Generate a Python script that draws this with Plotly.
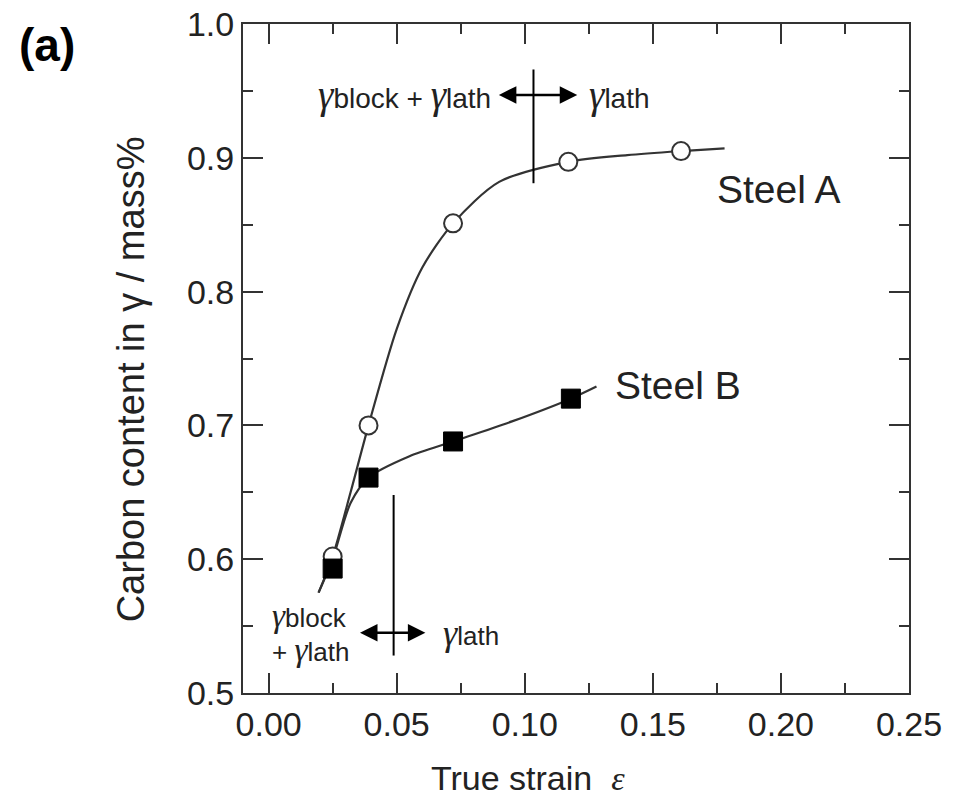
import plotly.graph_objects as go

# measured points
strain_A = [0.025, 0.039, 0.072, 0.117, 0.161]
carbon_A = [0.602, 0.700, 0.851, 0.897, 0.905]
strain_B = [0.025, 0.039, 0.072, 0.118]
carbon_B = [0.593, 0.661, 0.688, 0.720]

# guide curves
fit_strain_A = [0.0195, 0.025, 0.032, 0.039, 0.05, 0.06, 0.072, 0.09, 0.117, 0.14, 0.161, 0.178]
fit_carbon_A = [0.575, 0.602, 0.650, 0.700, 0.772, 0.818, 0.851, 0.882, 0.897, 0.902, 0.905, 0.907]
fit_strain_B = [0.0195, 0.025, 0.032, 0.039, 0.055, 0.072, 0.095, 0.118, 0.128]
fit_carbon_B = [0.575, 0.600, 0.642, 0.661, 0.677, 0.688, 0.703, 0.720, 0.729]

# boundaries between regimes (strain, y-bottom, y-top)
bound_top = [0.1034, 0.881, 0.966]
bound_bot = [0.0488, 0.528, 0.648]
arrow_top = [0.0893, 0.1205, 0.947]
arrow_bot = [0.0351, 0.0612, 0.545]

x_ticks = [0.00, 0.05, 0.10, 0.15, 0.20, 0.25]
x_ticktext = ["0.00", "0.05", "0.10", "0.15", "0.20", "0.25"]
y_ticks = [0.5, 0.6, 0.7, 0.8, 0.9, 1.0]
y_ticktext = ["0.5", "0.6", "0.7", "0.8", "0.9", "1.0"]

SANS = "Arial, Liberation Sans, sans-serif"
SERIF = "Liberation Serif, Times New Roman, serif"
INK = "#222"
LINE = "#333"

fig = go.Figure()
fig.add_trace(go.Scatter(x=fit_strain_A, y=fit_carbon_A, mode="lines",
                         line=dict(color=LINE, width=2.2, shape="spline", smoothing=0.8),
                         showlegend=False, hoverinfo="skip"))
fig.add_trace(go.Scatter(x=fit_strain_B, y=fit_carbon_B, mode="lines",
                         line=dict(color=LINE, width=2.2, shape="spline", smoothing=0.8),
                         showlegend=False, hoverinfo="skip"))
fig.add_trace(go.Scatter(x=strain_A, y=carbon_A, mode="markers", name="Steel A",
                         marker=dict(symbol="circle", size=18, color="white",
                                     line=dict(color=LINE, width=2)),
                         showlegend=False))
fig.add_trace(go.Scatter(x=strain_B, y=carbon_B, mode="markers", name="Steel B",
                         marker=dict(symbol="square", size=19, color="black",
                                     line=dict(color="black", width=1)),
                         showlegend=False))

# vertical boundary lines
for b in (bound_top, bound_bot):
    fig.add_shape(type="line", x0=b[0], x1=b[0], y0=b[1], y1=b[2],
                  xref="x", yref="y", line=dict(color="black", width=2))

# double arrows
for a in (arrow_top, arrow_bot):
    fig.add_annotation(x=a[1], y=a[2], ax=a[0], ay=a[2], xref="x", yref="y",
                       axref="x", ayref="y", text="", showarrow=True,
                       arrowhead=2, arrowsize=1.4, arrowwidth=2.5,
                       arrowside="end+start", arrowcolor="black")

def g(sub, size, k=1.4):
    return (f"<span style=\"font-family:{SERIF};font-style:italic;font-size:{int(size*k)}px\">γ</span>"
            f"<span style=\"font-size:{size}px\">{sub}</span>")

top_font = dict(family=SANS, size=28, color=INK)
bot_font = dict(family=SANS, size=26, color=INK)
fig.add_annotation(x=arrow_top[0], y=arrow_top[2], xref="x", yref="y",
                   text=g("block", 28) + " + " + g("lath", 28), showarrow=False,
                   xanchor="right", yanchor="middle", xshift=-4, font=top_font)
fig.add_annotation(x=arrow_top[1], y=arrow_top[2], xref="x", yref="y",
                   text=g("lath", 28), showarrow=False,
                   xanchor="left", yanchor="middle", xshift=10, font=top_font)
fig.add_annotation(x=arrow_bot[0], y=arrow_bot[2], xref="x", yref="y",
                   text=g("block", 26, 1.3), showarrow=False,
                   xanchor="right", yanchor="middle", xshift=-10, yshift=17, font=bot_font)
fig.add_annotation(x=arrow_bot[0], y=arrow_bot[2], xref="x", yref="y",
                   text="+ " + g("lath", 26, 1.3), showarrow=False,
                   xanchor="right", yanchor="middle", xshift=-8, yshift=-17, font=bot_font)
fig.add_annotation(x=arrow_bot[1], y=arrow_bot[2], xref="x", yref="y",
                   text=g("lath", 26), showarrow=False,
                   xanchor="left", yanchor="middle", xshift=16, font=bot_font)

label_font = dict(family=SANS, size=39, color=INK)
fig.add_annotation(x=0.1743, y=0.876, xref="x", yref="y", text="Steel A",
                   showarrow=False, xanchor="left", yanchor="middle", font=label_font)
fig.add_annotation(x=0.1346, y=0.730, xref="x", yref="y", text="Steel B",
                   showarrow=False, xanchor="left", yanchor="middle", font=label_font)

# axis titles (placed as annotations to match the original positions)
fig.add_annotation(x=0.428, y=-0.127, xref="paper", yref="paper",
                   text="True strain  <span style=\"font-family:" + SERIF + ";font-style:italic\">ε</span>",
                   showarrow=False, xanchor="center", yanchor="middle",
                   font=dict(family=SANS, size=34, color=INK))
fig.add_annotation(x=-0.168, y=0.469, xref="paper", yref="paper",
                   text="Carbon content in γ / mass%", textangle=-90,
                   showarrow=False, xanchor="center", yanchor="middle",
                   font=dict(family=SANS, size=38, color=INK))

# panel label
fig.add_annotation(x=-0.294, y=0.969, xref="paper", yref="paper", text="<b>(a)</b>",
                   showarrow=False, xanchor="center", yanchor="middle",
                   font=dict(family=SANS, size=46, color="black"))

axis_common = dict(showline=True, linecolor=LINE, linewidth=2, mirror="ticks",
                   ticks="inside", ticklen=20, tickwidth=2, tickcolor=LINE,
                   showgrid=False, zeroline=False, ticklabeloverflow="allow",
                   tickfont=dict(family=SANS, size=34, color=INK))

fig.update_xaxes(range=[-0.01, 0.25], tickvals=x_ticks, ticktext=x_ticktext,
                 minor=dict(dtick=0.025, tick0=0, ticks="inside", ticklen=10,
                            tickwidth=2, tickcolor=LINE),
                 **axis_common)
fig.update_yaxes(range=[0.5, 1.0], tickvals=y_ticks, ticktext=y_ticktext,
                 minor=dict(dtick=0.05, tick0=0.5, ticks="inside", ticklen=10,
                            tickwidth=2, tickcolor=LINE),
                 **axis_common)

fig.update_layout(width=955, height=807, paper_bgcolor="white", plot_bgcolor="white",
                  margin=dict(l=243, r=46, t=24, b=114, autoexpand=False))

fig.write_html("out.html", config={"displayModeBar": False},
               post_script="document.body.style.margin='0';document.body.style.overflow='hidden';")
